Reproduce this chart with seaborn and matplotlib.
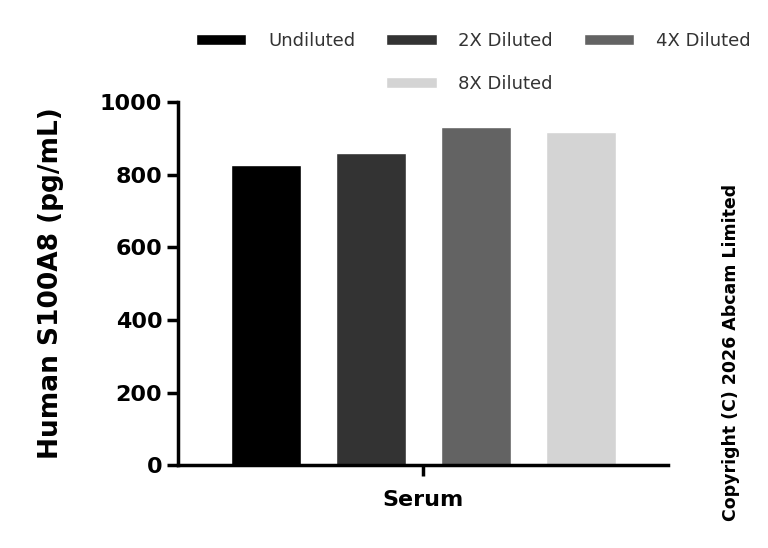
import pandas as pd
import matplotlib
matplotlib.use("Agg")
import matplotlib.pyplot as plt
import matplotlib.patches as mpatches
import seaborn as sns

# values
sample = ["Serum"]
dilutions = ["Undiluted", "2X Diluted", "4X Diluted", "8X Diluted"]
s100a8 = [826, 860, 932, 918]
colors = ["#000000", "#333333", "#636363", "#d4d4d4"]

df = pd.DataFrame({
    "Sample": sample * len(dilutions),
    "Dilution": dilutions,
    "Value": s100a8,
})

sns.set_style("ticks")
plt.rcParams["font.family"] = ["DejaVu Sans"]
plt.rcParams["text.color"] = "black"
plt.rcParams["axes.labelcolor"] = "black"
plt.rcParams["xtick.color"] = "black"
plt.rcParams["ytick.color"] = "black"
plt.rcParams["axes.edgecolor"] = "black"

fig = plt.figure(figsize=(7.68, 5.48), dpi=100)
ax = fig.add_axes([0.232, 0.151, 0.638, 0.663])

sns.barplot(data=df, x="Sample", y="Value", hue="Dilution", hue_order=dilutions,
            palette=colors, width=0.8, gap=1/3, errorbar=None, ax=ax, legend=True)

ax.set_xlim(-0.467, 0.467)
ax.set_ylim(0, 1000)
ax.set_yticks([0, 200, 400, 600, 800, 1000])
ax.set_xlabel("")
ax.set_ylabel("Human S100A8 (pg/mL)", fontsize=19, fontweight="bold", labelpad=26)
ax.tick_params(axis="both", width=2.5, length=8, labelsize=16)
ax.tick_params(axis="x", pad=10)
for lab in ax.get_yticklabels() + ax.get_xticklabels():
    lab.set_fontweight("bold")
for s in ["left", "bottom"]:
    ax.spines[s].set_linewidth(2.5)
sns.despine(ax=ax)

# legend: 3 columns, 8X sits under 2X
handles, labels = ax.get_legend_handles_labels()
blank = mpatches.Patch(color="none")
order = [handles[0], blank, handles[1], handles[3], handles[2]]
names = [labels[0], "", labels[1], labels[3], labels[2]]
ax.legend(order, names, ncol=3, frameon=False, loc="lower center",
          bbox_to_anchor=(0.602, 0.98), fontsize=13, handlelength=2.8,
          handleheight=0.6, columnspacing=1.7, labelspacing=1.4,
          handletextpad=1.2, labelcolor="#333333")

fig.text(0.952, 0.357, "Copyright (C) 2026 Abcam Limited", rotation=90,
         fontsize=12.5, fontweight="bold", ha="center", va="center")

fig.savefig("out.png", dpi=100)
